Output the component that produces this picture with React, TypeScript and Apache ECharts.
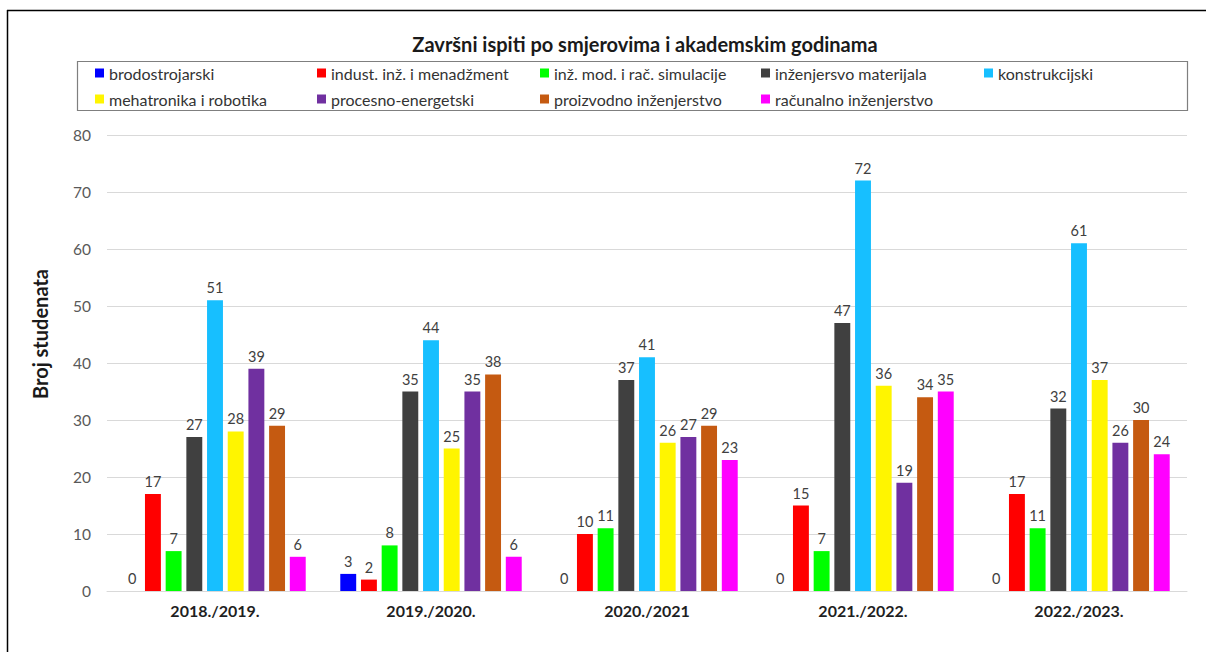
import React, { useEffect, useRef } from "react";
import * as echarts from "echarts";

const categories = ["2018./2019.", "2019./2020.", "2020./2021", "2021./2022.", "2022./2023."];
const seriesNames = [
  "brodostrojarski",
  "indust. inž. i menadžment",
  "inž. mod. i rač. simulacije",
  "inženjersvo materijala",
  "konstrukcijski",
  "mehatronika i robotika",
  "procesno-energetski",
  "proizvodno inženjerstvo",
  "računalno inženjerstvo",
];
const brodostrojarski = [0, 3, 0, 0, 0];
const industInz = [17, 2, 10, 15, 17];
const inzMod = [7, 8, 11, 7, 11];
const inzMaterijala = [27, 35, 37, 47, 32];
const konstrukcijski = [51, 44, 41, 72, 61];
const mehatronika = [28, 25, 26, 36, 37];
const procesno = [39, 35, 27, 19, 26];
const proizvodno = [29, 38, 29, 34, 30];
const racunalno = [6, 6, 23, 35, 24];
const seriesValues = [brodostrojarski, industInz, inzMod, inzMaterijala, konstrukcijski, mehatronika, procesno, proizvodno, racunalno];
const colors = ["#0000FF", "#FF0000", "#00FF00", "#404040", "#17BFFF", "#FFF500", "#7030A0", "#C55A11", "#FF00FF"];
const yTicks = [0, 10, 20, 30, 40, 50, 60, 70, 80];

const FONT = "Lato";

export default function App() {
  const ref = useRef<HTMLDivElement>(null);
  useEffect(() => {
    if (!ref.current) return;
    const chart = echarts.init(ref.current, undefined, { renderer: "svg" });
    const legendCols = [95, 317, 540, 761, 984];
    const legendRows = [65, 91];
    const legends = seriesNames.map((name, i) => ({
      data: [name],
      left: legendCols[i % 5],
      top: legendRows[Math.floor(i / 5)],
      padding: 0,
      itemWidth: 9,
      itemHeight: 9,
      icon: "rect",
      selectedMode: false,
      textStyle: { fontFamily: FONT, fontSize: 16, color: "#333333", padding: [0, 0, 0, 0] },
    }));
    chart.setOption({
      animation: false,
      color: colors,
      title: {
        text: "Završni ispiti po smjerovima i akademskim godinama",
        left: 640,
        top: 29,
        textAlign: "center",
        textStyle: { fontFamily: FONT, fontSize: 20, fontWeight: "bold", color: "#1a1a1a" },
      },
      legend: legends,
      grid: { left: 107, right: 19, top: 135, bottom: 61, containLabel: false },
      xAxis: {
        type: "category",
        data: categories,
        axisLine: { lineStyle: { color: "#D9D9D9", width: 1 } },
        axisTick: { show: false },
        axisLabel: { fontFamily: FONT, fontSize: 16, fontWeight: "bold", color: "#1f1f1f", margin: 11 },
      },
      yAxis: {
        type: "value",
        min: yTicks[0],
        max: yTicks[yTicks.length - 1],
        interval: 10,
        axisLine: { show: false },
        axisTick: { show: false },
        splitLine: { lineStyle: { color: "#D9D9D9", width: 1 } },
        axisLabel: { fontFamily: FONT, fontSize: 15.5, color: "#595959", margin: 16 },
      },
      series: seriesNames.map((name, i) => ({
        name,
        type: "bar",
        data: seriesValues[i],
        barGap: "30%",
        barCategoryGap: "16%",
        itemStyle: { color: colors[i] },
        label: {
          show: true,
          position: "top",
          distance: 5,
          fontFamily: FONT,
          fontSize: 14.5,
          color: "#404040",
        },
      })),
      graphic: [
        {
          type: "line",
          shape: { x1: 7, y1: 10.5, x2: 1206, y2: 10.5 },
          style: { stroke: "#000", lineWidth: 1.5 },
        },
        {
          type: "line",
          shape: { x1: 7.5, y1: 10, x2: 7.5, y2: 652 },
          style: { stroke: "#000", lineWidth: 1.5 },
        },
        {
          type: "rect",
          shape: { x: 77.5, y: 61.5, width: 1110, height: 49 },
          style: { fill: "none", stroke: "#7F7F7F", lineWidth: 1.2 },
          z: -1,
        },
        {
          type: "text",
          x: 40,
          y: 334,
          rotation: Math.PI / 2,
          style: {
            text: "Broj studenata",
            fontFamily: FONT,
            fontSize: 20,
            fontWeight: "bold",
            fill: "#1a1a1a",
            textAlign: "center",
            textVerticalAlign: "middle",
          },
        },
      ],
    });
    return () => chart.dispose();
  }, []);
  return (
    <div
      ref={ref}
      style={{ position: "fixed", left: 0, top: 0, width: 1206, height: 652, background: "#fff" }}
    />
  );
}
